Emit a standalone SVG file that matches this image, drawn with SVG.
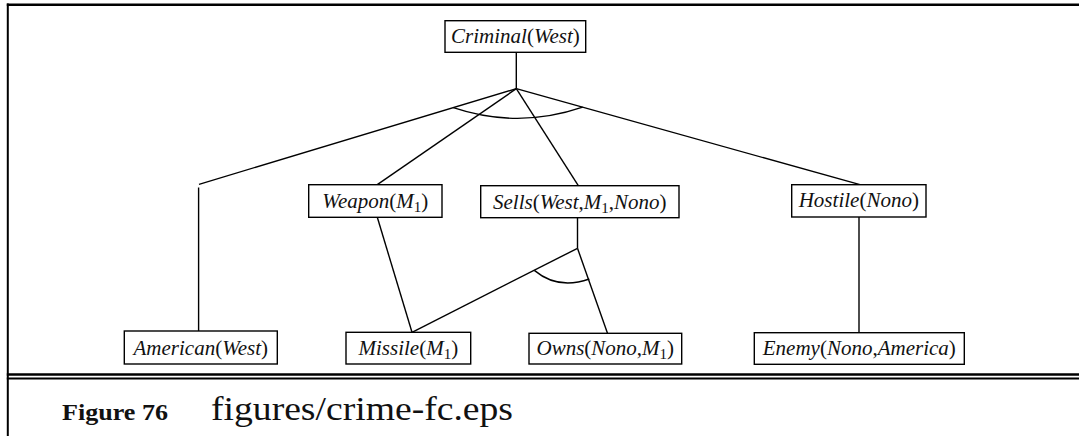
<svg xmlns="http://www.w3.org/2000/svg" width="1079" height="436" viewBox="0 0 1079 436">
<style>
.frame{stroke:#000;fill:none}
.box{fill:#fff;stroke:#000;stroke-width:1.4}
.lbl{font-family:"Liberation Serif","Times New Roman",serif;font-size:21px;fill:#111;text-anchor:middle}
.i{font-style:italic}
.sub{font-size:15px}
#connectors path,#connectors line{stroke:#000;stroke-width:1.4;fill:none}
.cap{font-family:"Liberation Serif","Times New Roman",serif;fill:#111}
</style>
<rect width="1079" height="436" fill="#fff"/>
<g id="frame" class="frame">
<line x1="7.8" y1="3.5" x2="7.8" y2="436" stroke-width="2"/>
<line x1="6.8" y1="4.8" x2="1079" y2="4.8" stroke-width="2.6"/>
<line x1="6.8" y1="374.5" x2="1079" y2="374.5" stroke-width="2.3"/>
<line x1="6.8" y1="378.4" x2="1079" y2="378.4" stroke-width="2"/>
</g>
<g id="connectors">
<line x1="516.3" y1="52.3" x2="516.3" y2="88.7"/>
<line x1="516.3" y1="88.7" x2="199" y2="184.3"/>
<line x1="198.6" y1="187.5" x2="198.6" y2="331"/>
<line x1="516.3" y1="88.7" x2="377.3" y2="184.7"/>
<line x1="516.3" y1="88.7" x2="578.3" y2="185.7"/>
<line x1="516.3" y1="88.7" x2="860" y2="184.7"/>
<path d="M453.3,107.6 Q518,129.3 582.7,107.2"/>
<line x1="377.3" y1="217.3" x2="412" y2="332.3"/>
<line x1="577.5" y1="217.7" x2="577.5" y2="248.3"/>
<line x1="577.5" y1="248.3" x2="412" y2="332.3"/>
<line x1="577.5" y1="248.3" x2="607.5" y2="333.3"/>
<path d="M534.3,270.4 Q558,290.2 589.3,279"/>
<line x1="859" y1="217" x2="859" y2="332.7"/>
</g>
<g id="n-criminal">
<rect class="box" x="445" y="20.7" width="140.7" height="31.6"/>
<text class="lbl" x="515.4" y="42.7"><tspan class="i">Criminal</tspan>(<tspan class="i">West</tspan>)</text>
</g>
<g id="n-weapon">
<rect class="box" x="308.7" y="184.7" width="133.3" height="32.6"/>
<text class="lbl" x="375.3" y="208.3"><tspan class="i">Weapon</tspan>(<tspan class="i">M</tspan><tspan class="sub" dy="4">1</tspan><tspan dy="-4">)</tspan></text>
</g>
<g id="n-sells">
<rect class="box" x="480.7" y="185.7" width="198.3" height="32"/>
<text class="lbl" x="579.8" y="209"><tspan class="i">Sells</tspan>(<tspan class="i">West</tspan>,<tspan class="i">M</tspan><tspan class="sub" dy="4">1</tspan><tspan dy="-4">,</tspan><tspan class="i">Nono</tspan>)</text>
</g>
<g id="n-hostile">
<rect class="box" x="791.7" y="184.7" width="134.3" height="32.3"/>
<text class="lbl" x="858.8" y="207.3"><tspan class="i">Hostile</tspan>(<tspan class="i">Nono</tspan>)</text>
</g>
<g id="n-american">
<rect class="box" x="124.3" y="331" width="153" height="33"/>
<text class="lbl" x="200.8" y="355"><tspan class="i">American</tspan>(<tspan class="i">West</tspan>)</text>
</g>
<g id="n-missile">
<rect class="box" x="346" y="332.3" width="124.7" height="31.7"/>
<text class="lbl" x="408.3" y="355"><tspan class="i">Missile</tspan>(<tspan class="i">M</tspan><tspan class="sub" dy="4">1</tspan><tspan dy="-4">)</tspan></text>
</g>
<g id="n-owns">
<rect class="box" x="529" y="333.3" width="152.7" height="30.7"/>
<text class="lbl" x="605.3" y="355"><tspan class="i">Owns</tspan>(<tspan class="i">Nono</tspan>,<tspan class="i">M</tspan><tspan class="sub" dy="4">1</tspan><tspan dy="-4">)</tspan></text>
</g>
<g id="n-enemy">
<rect class="box" x="754.3" y="332.7" width="210" height="31.6"/>
<text class="lbl" x="859.3" y="355"><tspan class="i">Enemy</tspan>(<tspan class="i">Nono</tspan>,<tspan class="i">America</tspan>)</text>
</g>
<g id="caption">
<text class="cap" x="62" y="419.5" font-size="24" font-weight="bold" textLength="106" lengthAdjust="spacingAndGlyphs">Figure 76</text>
<text class="cap" x="211" y="419.5" font-size="33" textLength="302" lengthAdjust="spacingAndGlyphs">figures/crime-fc.eps</text>
</g>
</svg>
